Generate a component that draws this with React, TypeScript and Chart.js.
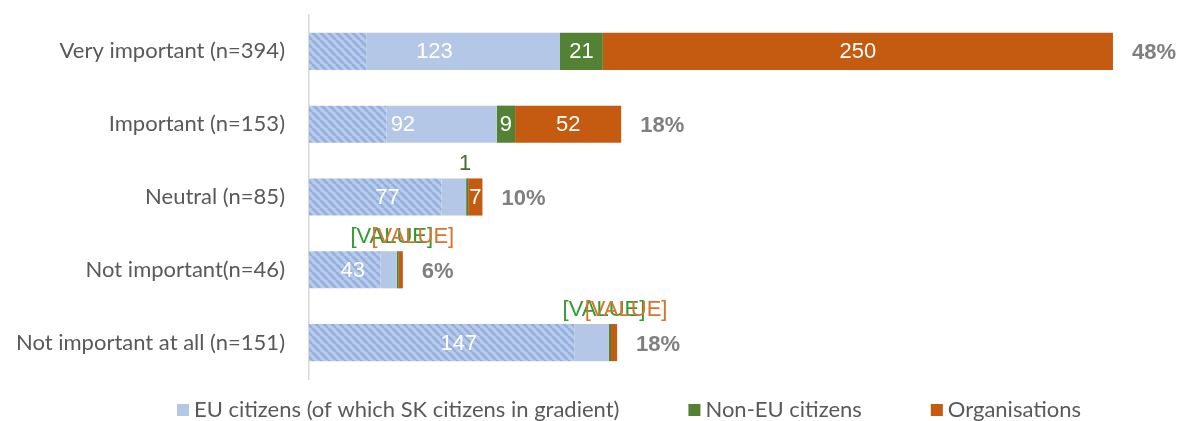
import React, { useEffect, useRef } from "react";
import { Chart, registerables } from "chart.js";

Chart.register(...registerables);

const categories = [
  "Very important (n=394)",
  "Important (n=153)",
  "Neutral (n=85)",
  "Not important(n=46)",
  "Not important at all (n=151)",
];
const euCitizens = [123, 92, 77, 43, 147];
const skCitizens = [28, 38, 65, 35, 130];
const nonEuCitizens = [21, 9, 1, 1, 1];
const organisations = [250, 52, 7, 2, 3];
const nonEuLabels = ["21", "9", "1", "[VALUE]", "[VALUE]"];
const orgLabels = ["250", "52", "7", "[VALUE]", "[VALUE]"];
const legendLabels = [
  "EU citizens (of which SK citizens in gradient)",
  "Non-EU citizens",
  "Organisations",
];

const BLUE = "#b4c7e7";
const GREEN = "#548235";
const ORANGE = "#c55a11";
const SANS = "Lato, 'Open Sans', sans-serif";
const ARIAL = "'Liberation Sans', Arial, sans-serif";

function makeHatch(): CanvasPattern | string {
  const c = document.createElement("canvas");
  c.width = 8;
  c.height = 8;
  const g = c.getContext("2d");
  if (!g) return BLUE;
  g.fillStyle = "#b9cbea";
  g.fillRect(0, 0, 8, 8);
  g.strokeStyle = "#94afde";
  g.lineWidth = 2.6;
  for (const o of [-8, 0, 8]) {
    g.beginPath();
    g.moveTo(o, 0);
    g.lineTo(o + 8, 8);
    g.stroke();
  }
  const p = g.createPattern(c, "repeat");
  return p || BLUE;
}

export default function App() {
  const ref = useRef<HTMLCanvasElement | null>(null);

  useEffect(() => {
    if (!ref.current) return;
    const totals = categories.map(
      (_, i) => euCitizens[i] + nonEuCitizens[i] + organisations[i]
    );
    const grand = totals.reduce((a, b) => a + b, 0);
    const pct = totals.map((t) => Math.round((t / grand) * 100) + "%");

    const labelPlugin = {
      id: "labels",
      afterDatasetsDraw(chart: any) {
        const ctx = chart.ctx;
        const x = chart.scales.x;
        ctx.save();
        ctx.textBaseline = "middle";
        const metaEu = chart.getDatasetMeta(1);
        const metaNon = chart.getDatasetMeta(2);
        const metaOrg = chart.getDatasetMeta(3);
        categories.forEach((_, i) => {
          const bar = metaEu.data[i];
          const yc = bar.y;
          const top = yc - bar.height / 2;
          ctx.font = `22px ${ARIAL}`;
          ctx.textAlign = "center";
          ctx.fillStyle = "#ffffff";
          ctx.fillText(String(euCitizens[i]), x.getPixelForValue(euCitizens[i] / 2), yc + 1);

          // non-EU
          const nb = metaNon.data[i];
          const nx = (nb.x + nb.base) / 2;
          const nw = Math.abs(nb.x - nb.base);
          const nt = nonEuLabels[i];
          if (ctx.measureText(nt).width + 1 <= nw) {
            ctx.fillStyle = "#ffffff";
            ctx.fillText(nt, nx, yc + 1);
          } else {
            ctx.fillStyle = nt === "[VALUE]" ? "#2f9a2f" : "#4a6b2e";
            ctx.fillText(nt, nt === "[VALUE]" ? nx - 6 : nx - 2, top - 14);
          }
          // organisations
          const ob = metaOrg.data[i];
          const ox = (ob.x + ob.base) / 2;
          const ow = Math.abs(ob.x - ob.base);
          const ot = orgLabels[i];
          if (ctx.measureText(ot).width + 1 <= ow) {
            ctx.fillStyle = "#ffffff";
            ctx.fillText(ot, ox, yc + 1);
          } else {
            ctx.fillStyle = "#d8732e";
            ctx.fillText(ot, ox + 12, top - 14);
          }
          // percentage
          ctx.font = `bold 22px ${ARIAL}`;
          ctx.textAlign = "left";
          ctx.fillStyle = "#7f7f7f";
          ctx.fillText(pct[i], x.getPixelForValue(totals[i]) + 19, yc + 2);
        });
        ctx.restore();
      },
    };

    const legendPlugin = {
      id: "customLegend",
      afterDraw(chart: any) {
        const ctx = chart.ctx;
        const colors = [BLUE, GREEN, ORANGE];
        ctx.save();
        ctx.font = `22px ${SANS}`;
        ctx.textBaseline = "middle";
        ctx.textAlign = "left";
        const box = 12;
        const gapText = 5;
        const gapItem = 69;
        let xx = chart.chartArea.left - 132;
        const yy = chart.height - 11;
        legendLabels.forEach((t, i) => {
          ctx.fillStyle = colors[i];
          ctx.fillRect(xx, yy - box / 2, box, box);
          ctx.fillStyle = "#595959";
          ctx.fillText(t, xx + box + gapText, yy);
          xx += box + gapText + ctx.measureText(t).width + gapItem;
        });
        ctx.restore();
      },
    };

    const chart = new Chart(ref.current, {
      type: "bar",
      data: {
        labels: categories,
        datasets: [
          {
            label: "SK citizens",
            data: skCitizens,
            backgroundColor: makeHatch() as any,
          },
          {
            label: "EU citizens",
            data: euCitizens.map((v, i) => v - skCitizens[i]),
            backgroundColor: BLUE,
          },
          { label: "Non-EU citizens", data: nonEuCitizens, backgroundColor: GREEN },
          { label: "Organisations", data: organisations, backgroundColor: ORANGE },
        ],
      },
      options: {
        indexAxis: "y",
        animation: false,
        responsive: true,
        maintainAspectRatio: false,
        layout: { padding: { top: 15, bottom: 42, left: 0, right: 17 } },
        datasets: {
          bar: {
            categoryPercentage: 1,
            barPercentage: 0.51,
            borderWidth: 0,
          },
        },
        scales: {
          x: {
            stacked: true,
            min: 0,
            max: 420,
            display: false,
          },
          y: {
            stacked: true,
            grid: { display: false, drawTicks: false },
            border: { display: true, color: "#d9d9d9", width: 1.5 },
            ticks: {
              color: "#595959",
              font: { family: SANS, size: 22 },
              padding: 24,
            },
            afterFit(scale: any) {
              scale.width = 309;
              scale.paddingTop = 0;
              scale.paddingBottom = 0;
            },
          },
        },
        plugins: {
          legend: { display: false },
          tooltip: { enabled: false },
        },
      },
      plugins: [labelPlugin, legendPlugin],
    } as any);
    return () => chart.destroy();
  }, []);

  return (
    <div style={{ position: "fixed", left: 0, top: 0, width: 1183, height: 421, background: "#fff" }}>
      <canvas ref={ref} />
    </div>
  );
}
